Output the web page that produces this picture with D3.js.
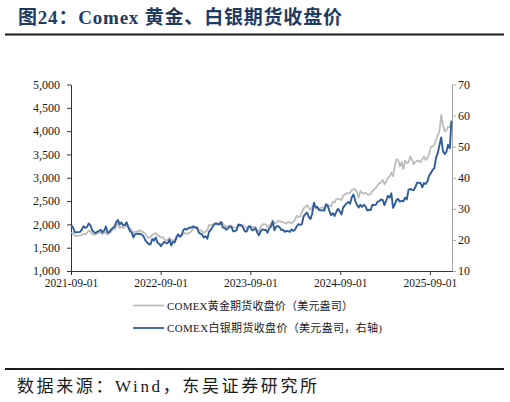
<!DOCTYPE html>
<html><head><meta charset="utf-8">
<script src="https://cdn.jsdelivr.net/npm/d3@7"></script>
<style>body{margin:0;background:#fff}</style>
</head><body><svg id="c" width="510" height="402"></svg>
<script>
// ---- data (weekly closes) ----
const startDate = "2021-09-03";
const domainDates = ["2021-09-01", "2025-11-30"];
const xTickLabels = ["2021-09-01","2022-09-01","2023-09-01","2024-09-01","2025-09-01"];
const leftTicks = [1000,1500,2000,2500,3000,3500,4000,4500,5000];
const rightTicks = [10,20,30,40,50,60,70];
const titleText = "图24：Comex 黄金、白银期货收盘价";
const sourceText = "数据来源：Wind，东吴证券研究所";
const legendLabels = ["COMEX黄金期货收盘价（美元盎司）", "COMEX白银期货收盘价（美元盎司，右轴)"];

const gold = [
  // 2021 (18)
  1833,1792,1753,1751,1758,1757,1768,1796,1783,1816,1868,1851,1788,1783,1783,1805,1811,1828,
  // 2022 (52)
  1797,1817,1835,1786, 1808,1843,1900,1889, 1966,2030,1921,1954, 1923,1945,1974,1934,1911,
  1882,1808,1846,1851, 1850,1875,1840,1830, 1801,1742,1703,1727,1781, 1791,1816,1762,1750,
  1721,1728,1683,1655,1672, 1709,1649,1662,1645, 1681,1771,1754,1755, 1809,1810,1800,1804,1826,
  // 2023 (52)
  1869,1921,1928,1945, 1876,1874,1850,1817, 1856,1867,1989,1983,1986, 2020,2015,1990,1999,
  2050,2019,1981,1944, 1969,1977,1971,1930,1929, 1933,1964,1965,1999, 1976,1946,1915,1947,
  1966,1942,1946,1945,1866, 1845,1942,1994,2006, 1999,1940,1984,2003, 2089,2014,2035,2068,2071,
  // 2024 (52)
  2050,2051,2029,2018, 2053,2038,2024,2051, 2096,2186,2162,2165,2254, 2346,2374,2413,2358,
  2311,2381,2421,2335,2348, 2325,2349,2369,2339, 2397,2421,2399,2386, 2480,2470,2546,2547,2536,
  2524,2611,2646,2668, 2667,2676,2736,2755, 2749,2694,2570,2712,2681, 2657,2675,2645,2633,
  // 2025 (48)
  2654,2715,2748,2789,2835, 2886,2900,2954,2857, 2914,3001,3023,3114, 3036,3245,3400,3380,
  3243,3336,3187,3366,3315, 3331,3452,3385,3287, 3342,3365,3359,3336, 3399,3458,3382,3418,3516,
  3653,3680,3705,3809, 3908,4000,4350,4137,3996, 4009,4094,4080,4230
];
const silver = [
  // 2021 (18)
  24.7,23.8,22.4,22.5,22.5,22.6,23.3,24.4,23.9,24.1,25.3,24.7,23.2,22.5,22.2,22.6,22.9,23.3,
  // 2022 (52)
  22.4,23.0,24.3,22.4, 22.5,23.3,23.9,24.2, 25.7,26.4,25.0,25.6, 24.7,24.8,25.7,24.2,22.8,
  22.4,20.8,21.8,22.0, 22.0,21.9,21.7,21.1, 19.8,19.2,18.6,18.6,20.3, 19.8,20.8,19.1,18.8,
  18.0,18.8,19.4,18.9,19.0, 20.1,18.2,19.4,19.2, 20.9,21.8,21.0,21.5, 23.1,23.6,23.3,23.8,24.0,
  // 2023 (52)
  24.0,24.4,24.0,23.9, 22.4,22.0,21.7,20.8, 21.2,20.4,22.6,23.3,24.1, 25.0,25.3,25.2,25.0,
  25.8,24.0,23.9,23.3, 23.7,24.3,24.2,22.8,22.8, 23.1,25.0,24.8,24.6, 23.7,22.7,22.8,24.3,
  24.3,23.1,23.3,23.8,22.4, 21.5,22.7,23.4,23.2, 23.3,22.3,23.7,24.3, 25.9,23.1,24.3,24.5,24.1,
  // 2024 (52)
  23.2,23.3,22.6,22.9, 22.8,22.6,23.4,22.9, 23.3,24.4,25.1,24.8,25.1, 27.6,28.3,28.8,27.4,
  26.7,28.5,32.0,30.5,30.6, 29.6,29.5,29.6,29.4, 31.5,31.0,29.3,28.0, 28.6,27.7,29.0,30.0,29.2,
  28.2,30.4,31.1,31.8, 32.2,31.6,33.7,34.6, 32.6,31.3,30.4,31.3,30.6, 31.3,30.8,29.5,29.7,
  // 2025 (48)
  29.6,31.3,31.2,31.3,32.3, 32.5,33.0,32.9,31.2, 32.6,34.2,33.6,35.0, 30.3,31.4,32.8,33.2,
  32.3,32.6,32.4,33.6,33.0, 36.1,36.4,36.1,36.0, 37.0,38.4,38.4,38.3, 36.9,38.3,38.0,38.9,40.7,
  41.5,42.5,43.1,46.5, 47.9,50.5,53.0,48.6,47.6, 48.3,50.6,49.5,58.3
];

// ---- chart ----
const parse = d3.timeParse("%Y-%m-%d");
const t0 = parse(startDate);
const dates = gold.map((_, i) => d3.timeDay.offset(t0, 7 * i));

const svg = d3.select("#c");
const L = 71, R = 452, T = 84.5, B = 271;
const serif = "'Times New Roman','Liberation Serif','Noto Sans CJK SC',serif";

const x = d3.scaleTime().domain(domainDates.map(parse)).range([L, R]);
const yL = d3.scaleLinear().domain([1000, 5000]).range([B, T]);
const yR = d3.scaleLinear().domain([10, 70]).range([B, T]);

// title
svg.append("text").attr("x", 18).attr("y", 24)
  .attr("font-family", "'Liberation Serif','Noto Sans CJK SC',serif")
  .attr("font-weight", "bold").attr("font-size", 19).attr("fill", "#1f3a63")
  .attr("textLength", 324).attr("lengthAdjust", "spacing")
  .text(titleText);
svg.append("line").attr("x1", 5).attr("x2", 504).attr("y1", 34.5).attr("y2", 34.5)
  .attr("stroke", "#1a1a1a").attr("stroke-width", 2.2);

// axes
function styleAxis(g, color) {
  g.selectAll("path").attr("stroke", color);
  g.selectAll("line").attr("stroke", color);
  g.selectAll("text").attr("font-family", serif).attr("fill", "#1a1a1a");
}
const gL = svg.append("g").attr("transform", `translate(${L},0)`)
  .call(d3.axisLeft(yL).tickValues(leftTicks).tickFormat(d3.format(",")).tickSize(4).tickSizeOuter(0).tickPadding(7));
styleAxis(gL, "#333");
gL.selectAll("text").attr("font-size", 12);

const gR = svg.append("g").attr("transform", `translate(${R},0)`)
  .call(d3.axisRight(yR).tickValues(rightTicks).tickSize(4).tickSizeOuter(0).tickPadding(2));
styleAxis(gR, "#a6a6a6");
gR.selectAll("text").attr("font-size", 12);

const gB = svg.append("g").attr("transform", `translate(0,${B})`)
  .call(d3.axisBottom(x).tickValues(xTickLabels.map(parse)).tickFormat(d3.timeFormat("%Y-%m-%d")).tickSize(4).tickSizeOuter(0).tickPadding(4));
styleAxis(gB, "#333");
gB.selectAll("text").attr("font-size", 11.5);

// lines
const lineG = d3.line().x((d, i) => x(dates[i])).y(d => yL(d));
const lineS = d3.line().x((d, i) => x(dates[i])).y(d => yR(d));
svg.append("path").datum(gold).attr("d", lineG).attr("fill", "none")
  .attr("stroke", "#bdbdbd").attr("stroke-width", 1.8).attr("stroke-linejoin", "round");
svg.append("path").datum(silver).attr("d", lineS).attr("fill", "none")
  .attr("stroke", "#2f5d9a").attr("stroke-width", 1.9).attr("stroke-linejoin", "round");

// legend
const legColors = ["#bdbdbd", "#2f5d9a"];
const legY = [305.5, 328];
const legW = [186, 215];
legendLabels.forEach((lab, i) => {
  svg.append("line").attr("x1", 133).attr("x2", 164).attr("y1", legY[i]).attr("y2", legY[i])
    .attr("stroke", legColors[i]).attr("stroke-width", 1.8);
  svg.append("text").attr("x", 167).attr("y", legY[i] + 4).attr("font-family", serif)
    .attr("font-size", 11).attr("fill", "#1a1a1a")
    .attr("textLength", legW[i]).attr("lengthAdjust", "spacing").text(lab);
});

// source
svg.append("line").attr("x1", 5).attr("x2", 504).attr("y1", 369).attr("y2", 369)
  .attr("stroke", "#1a1a1a").attr("stroke-width", 2);
svg.append("text").attr("x", 17).attr("y", 392)
  .attr("font-family", serif).attr("font-size", 17).attr("fill", "#1a1a1a")
  .attr("textLength", 300).attr("lengthAdjust", "spacing")
  .text(sourceText);
</script></body></html>
